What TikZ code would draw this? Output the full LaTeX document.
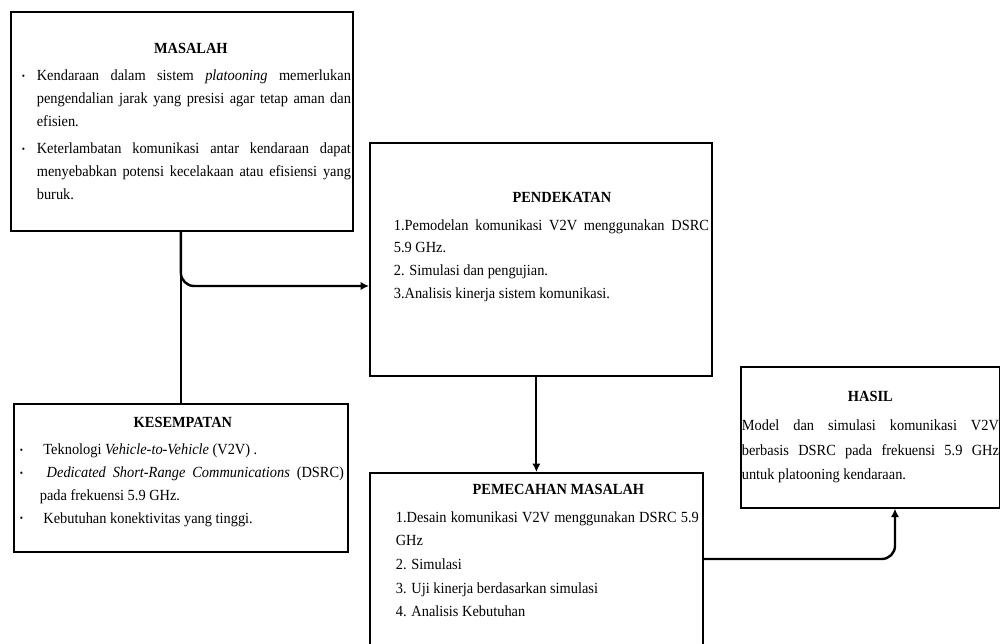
\documentclass[tikz,border=0pt]{standalone}
\usepackage{fontspec}
\setmainfont{Liberation Serif}[FakeStretch=0.93]
\usetikzlibrary{arrows.meta}
\setlength{\parindent}{0pt}
\hyphenpenalty=10000
\newcommand{\judul}[1]{\centerline{\bfseries #1}\vspace{3pt}}
\newcommand{\butir}[1][0.375cm]{\par\noindent\hangindent=#1\hangafter=1\makebox[#1][l]{\raisebox{0.2ex}{\scriptsize\textbullet}}}
\tikzset{
	kotak/.style={draw,line width=1.2pt,inner sep=0pt,anchor=north west},
	teks/.style={inner sep=0pt,align=justify,font=\fontsize{11}{16.3}\selectfont},
	garis/.style={line width=1.5pt},
	panah/.style={-{Latex[length=6pt,width=6pt]},line width=1.7pt}
}
\begin{document}
\begin{tikzpicture}[x=0.025cm,y=-0.025cm]
		\clip (0,0) rectangle (1000,644);
		\fill[white] (0,0) rectangle (1000,644);
		\node[kotak,minimum width=8.55cm,minimum height=5.475cm] (masalah) at (10,11) {};
		\node[kotak,minimum width=8.55cm,minimum height=5.825cm] (pendekatan) at (369,142) {};
		\node[kotak,minimum width=8.35cm,minimum height=3.7cm] (kesempatan) at (13,403) {};
		\node[kotak,minimum width=8.325cm,minimum height=5cm] (pemecahan) at (369,472) {};
		\node[kotak,minimum width=6.475cm,minimum height=3.525cm] (hasil) at (740,366) {};
		\node[teks,text width=8.45cm] (masalahteks) at (masalah.center) {
			\judul{MASALAH}
			\leftskip=0.225cm
			\butir Kendaraan dalam sistem \textit{platooning} memerlukan\linebreak pengendalian jarak yang presisi agar tetap aman dan\linebreak efisien.\par\vspace{3pt}
			\butir Keterlambatan komunikasi antar kendaraan dapat\linebreak menyebabkan potensi kecelakaan atau efisiensi yang\linebreak buruk.\par
		};
		\node[teks,text width=8.15cm,yshift=0.15cm] (kesempatanteks) at (kesempatan.center) {
			\judul{KESEMPATAN}
			\leftskip=0.05cm
			\butir[0.5cm] Teknologi \textit{Vehicle-to-Vehicle} (V2V) .
			\butir[0.5cm] \textit{Dedicated Short-Range Communications} (DSRC)\linebreak pada frekuensi 5.9 GHz.
			\butir[0.5cm] Kebutuhan konektivitas yang tinggi.\par
		};
		\node[teks,text width=8.4cm,yshift=0.3cm] (pendekatanteks) at (pendekatan.center) {
			\judul{PENDEKATAN}
			\leftskip=0.525cm
			1.Pemodelan komunikasi V2V menggunakan DSRC\linebreak 5.9 GHz.\par
			2. Simulasi dan pengujian.\par
			3.Analisis kinerja sistem komunikasi.\par
		};
		\node[teks,text width=8.125cm,anchor=north,yshift=-0.3cm,font=\fontsize{11}{16.8}\selectfont] (pemecahanteks) at (pemecahan.north) {
			\judul{PEMECAHAN MASALAH}
			\leftskip=0.55cm
			1.Desain komunikasi V2V menggunakan DSRC 5.9\linebreak GHz\par
			2. Simulasi\par
			3. Uji kinerja berdasarkan simulasi\par
			4. Analisis Kebutuhan\par
		};
		\node[teks,text width=6.425cm,font=\fontsize{11}{17.5}\selectfont] (hasilteks) at (hasil.center) {
			\judul{HASIL}
			Model dan simulasi komunikasi V2V\linebreak berbasis DSRC pada frekuensi 5.9 GHz\linebreak untuk platooning kendaraan.\par
		};
		\coordinate (masuk) at (369,286);
		\coordinate (keluar) at (895,559);
		\draw[garis] (kesempatan.north |- masalah.south) -- (kesempatan.north);
		\draw[panah,rounded corners=0.33cm] (kesempatan.north |- masalah.south) |- (masuk);
		\draw[panah,line width=1.3pt] (pemecahan.north |- pendekatan.south) -- (pemecahan.north);
		\draw[panah,rounded corners=0.33cm] (pemecahan.east |- keluar) -| (hasil.south -| keluar);
	\end{tikzpicture}
\end{document}
